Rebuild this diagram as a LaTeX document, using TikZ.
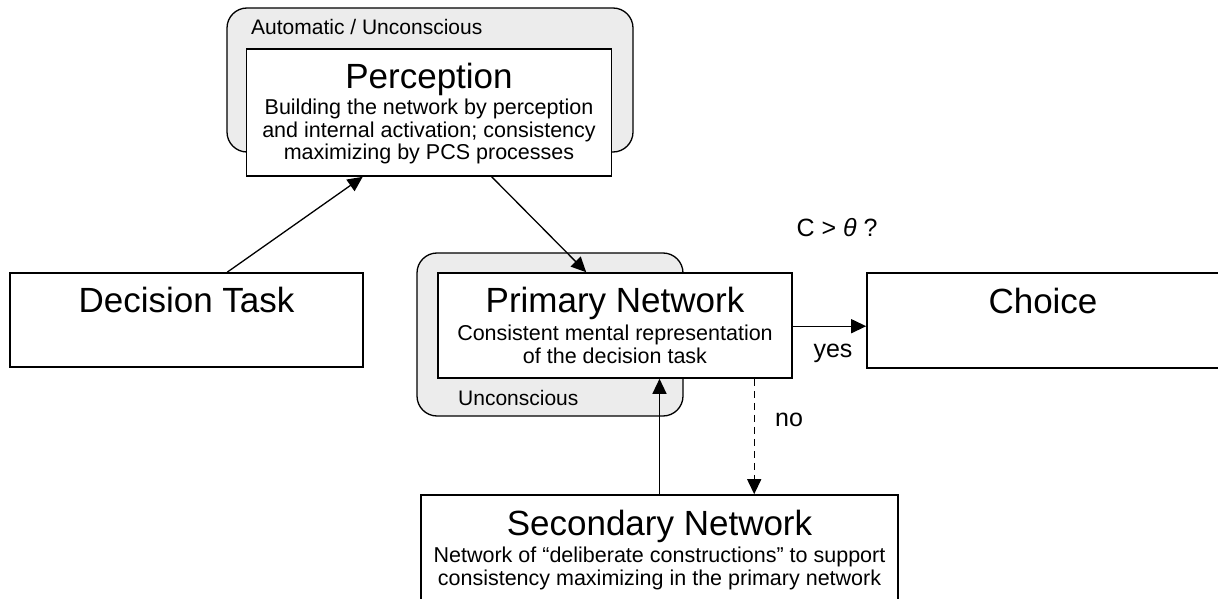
\documentclass[tikz,border=0pt]{standalone}
\usepackage{fontspec}
\setmainfont{Liberation Sans}
\usetikzlibrary{arrows.meta,calc}
\begin{document}
\begin{tikzpicture}[x=1pt,y=-1pt,
  box/.style={draw=black,line width=1.6pt,fill=white,rectangle,inner sep=0pt},
  graybox/.style={draw=black,line width=1.3pt,fill=gray!15,rounded corners=20pt,rectangle,inner sep=0pt},
  title/.style={inner sep=0pt,anchor=base,font=\fontsize{35}{40}\selectfont},
  small/.style={inner sep=0pt,anchor=base,align=center,font=\fontsize{21.5}{22.5}\selectfont},
  lbl/.style={inner sep=0pt,anchor=base,font=\fontsize{25}{28}\selectfont},
  conn/.style={line width=1.3pt,-{Triangle[length=15pt,width=14pt]}}]
\useasboundingbox (0,0) rectangle (1218,599);
\clip (0,0) rectangle (1218,599);
% gray background boxes
\node[graybox,minimum width=406pt,minimum height=144pt] (percout) at (430,80) {};
\node[graybox,minimum width=266pt,minimum height=163pt] (primout) at (550,334.5) {};
% white boxes
\node[box,minimum width=353pt,minimum height=94pt] (dt) at (186.5,320) {};
\node[box,minimum width=365pt,minimum height=127pt] (perc) at (429,112.5) {};
\node[box,minimum width=354pt,minimum height=105pt] (prim) at (615,325.5) {};
\node[box,minimum width=352pt,minimum height=95pt] (choice) at (1043,320.5) {};
\node[box,minimum width=477pt,minimum height=145pt] (sec) at (659.5,567.5) {};
% texts
\node[lbl,anchor=base west,font=\fontsize{21}{24}\selectfont] (autolbl) at (251,35) {Automatic / Unconscious};
\node[lbl,anchor=base west,font=\fontsize{21}{24}\selectfont] (unclbl) at (458,405) {Unconscious};
\node[title] (dtt) at (186.5,312) {Decision Task};
\node[title] (choicet) at (1043,313) {Choice};
\node[title] (perct) at (429,89) {Perception};
\node[small] (percd) at (429,160) {Building the network by perception\\and internal activation; consistency\\maximizing by PCS processes};
\node[title] (primt) at (615,312) {Primary Network};
\node[small] (primd) at (615,363) {Consistent mental representation\\of the decision task};
\node[title] (sect) at (659.5,535) {Secondary Network};
\node[small] (secd) at (659.5,585) {Network of “deliberate constructions” to support\\consistency maximizing in the primary network};
\node[lbl] (cond) at (837,236) {C > {\itshape θ} ?};
\node[lbl] (yes) at (833,357) {yes};
\node[lbl] (no) at (789,426) {no};
% connectors
\draw[conn] ($(dt.north west)+(218,0)$) -- ($(perc.south west)+(117,0)$);
\draw[conn] ($(perc.south west)+(246,0)$) -- ($(prim.north west)+(149,0)$);
\coordinate (yesstart) at ($(prim.north east)+(0,54)$);
\draw[conn] (yesstart) -- (yesstart -| choice.west);
\draw[conn] (sec.north) -- (sec.north |- prim.south);
\coordinate (nostart) at ($(prim.south west)+(317,0)$);
\draw[conn,dashed,dash pattern=on 7pt off 5pt] (nostart) -- (nostart |- sec.north);
\end{tikzpicture}
\end{document}
